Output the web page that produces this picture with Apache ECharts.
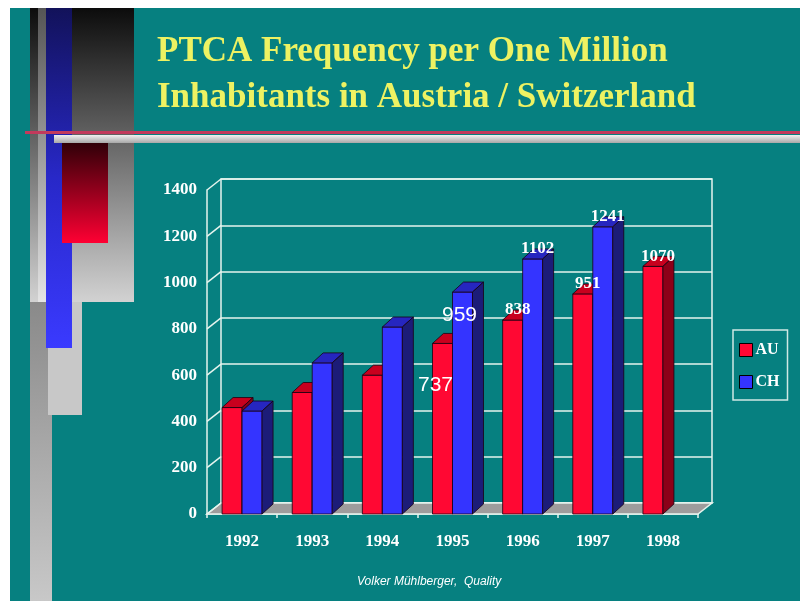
<!DOCTYPE html>
<html>
<head>
<meta charset="utf-8">
<title>PTCA Frequency per One Million Inhabitants</title>
<script src="https://cdn.jsdelivr.net/npm/echarts@6/dist/echarts.min.js"></script>
<style>
  html, body { margin: 0; padding: 0; background: #fff; }
  #chart { width: 800px; height: 601px; }
</style>
</head>
<body>
<div id="chart"></div>
<script>
var years = ['1992', '1993', '1994', '1995', '1996', '1997', '1998'];
var auData = [460, 525, 600, 737, 838, 951, 1070];
var chData = [445, 653, 808, 959, 1102, 1241, null];
var yTicks = [0, 200, 400, 600, 800, 1000, 1200, 1400];
// value labels written on the bars ('' = none)
var auLabels = ['', '', '', '737', '838', '951', '1070'];
var chLabels = ['', '', '', '959', '1102', '1241', ''];

// 3d look
var BAR_DX = 11, BAR_DY = 10;
var WALL_DX = 14, WALL_DY = 11;
var TEAL = '#068080';
var LINE = '#e6f4ee';
var SERIF = '"Liberation Serif", "Times New Roman", serif';

// the two 1995 labels are drawn in a plain font, off the bar top
var plainLabelOffset = { 0: { 3: [-7, 42] }, 1: { 3: [-3, 23] } };

var chart = echarts.init(document.getElementById('chart'));

// left edge + width of a bar, AU left of the category centre, CH right of it
function barBox(sIdx, api, i, v) {
  var top = api.coord([i, v]);
  var base = api.coord([i, 0]);
  var w = api.size([1, 0])[0] * 0.285;
  return { x: sIdx === 0 ? top[0] - w : top[0], w: w, yt: top[1], yb: base[1] };
}

function barRender(sIdx, front, topC, side) {
  return function (params, api) {
    var v = api.value(1);
    if (v == null || isNaN(v)) return;
    var b = barBox(sIdx, api, api.value(0), v);
    var x = b.x, w = b.w, yt = b.yt, yb = b.yb;
    return { type: 'group', children: [
      { type: 'rect', shape: { x: x, y: yt, width: w, height: yb - yt },
        style: { fill: front, stroke: '#1a0010', lineWidth: 0.8 } },
      { type: 'polygon', shape: { points: [[x, yt], [x + BAR_DX, yt - BAR_DY], [x + w + BAR_DX, yt - BAR_DY], [x + w, yt]] },
        style: { fill: topC, stroke: '#1a0010', lineWidth: 0.8 } },
      { type: 'polygon', shape: { points: [[x + w, yt], [x + w + BAR_DX, yt - BAR_DY], [x + w + BAR_DX, yb - BAR_DY], [x + w, yb]] },
        style: { fill: side, stroke: '#1a0010', lineWidth: 0.8 } }
    ] };
  };
}

// labels go in their own series so that they sit above every bar
function labelRender(params, api) {
  var i = api.value(0);
  var children = [];
  [[auData, auLabels], [chData, chLabels]].forEach(function (pair, sIdx) {
    var v = pair[0][i], txt = pair[1][i];
    if (v == null || !txt) return;
    var b = barBox(sIdx, api, i, v);
    var off = plainLabelOffset[sIdx][i];
    if (off) {
      children.push({ type: 'text', x: b.x + b.w / 2 + off[0], y: b.yt + off[1],
        style: { text: txt, fill: '#fff', font: 'normal 21px "Liberation Sans", Arial, sans-serif', align: 'center', verticalAlign: 'middle' } });
    } else {
      children.push({ type: 'text', x: b.x + b.w / 2 + 5, y: b.yt - 10,
        style: { text: txt, fill: '#fff', font: 'bold 17px ' + SERIF, align: 'center', verticalAlign: 'middle' } });
    }
  });
  return { type: 'group', children: children };
}

// floor and the short lines of the left wall
function floorRender(params, api) {
  var cs = params.coordSys;
  var y0 = api.coord([0, 0])[1];
  var x0 = cs.x, x1 = cs.x + cs.width;
  var children = [
    { type: 'polygon', shape: { points: [[x0, y0], [x1, y0], [x1 + WALL_DX, y0 - WALL_DY], [x0 + WALL_DX, y0 - WALL_DY]] },
      style: { fill: '#9e9c9c', stroke: LINE, lineWidth: 1.5 } }
  ];
  yTicks.forEach(function (t) {
    var yy = api.coord([0, t])[1];
    children.push({ type: 'line', shape: { x1: x0, y1: yy, x2: x0 + WALL_DX, y2: yy - WALL_DY },
      style: { stroke: LINE, lineWidth: 1.5 } });
  });
  return { type: 'group', children: children };
}

var option = {
  backgroundColor: TEAL,
  animation: false,
  title: [{
    text: 'PTCA Frequency per One Million\nInhabitants in Austria / Switzerland',
    left: 152,
    top: 24,
    textStyle: {
      color: '#eef262',
      fontFamily: SERIF,
      fontWeight: 'bold',
      fontSize: 35,
      lineHeight: 46,
      textShadowColor: '#1a2a10',
      textShadowOffsetX: 2,
      textShadowOffsetY: 2
    }
  }, {
    text: 'Volker Mühlberger,  Quality',
    left: 352,
    top: 571,
    textStyle: { color: '#fff', fontFamily: '"Liberation Sans", Arial, sans-serif', fontStyle: 'italic', fontWeight: 'normal', fontSize: 12 }
  }],
  legend: {
    data: ['AU', 'CH'],
    orient: 'vertical',
    left: 733,
    top: 330,
    padding: [12, 8, 10, 6],
    itemGap: 16,
    itemWidth: 13,
    itemHeight: 13,
    icon: 'rect',
    borderColor: '#cfe8e4',
    borderWidth: 1.5,
    itemStyle: { borderColor: '#000', borderWidth: 1 },
    textStyle: { color: '#fff', fontFamily: SERIF, fontWeight: 'bold', fontSize: 16, padding: [0, 0, 0, -2] }
  },
  grid: [
    { left: 207, right: 102, top: 190, bottom: 87 },
    { left: 207 + WALL_DX, right: 102 - WALL_DX, top: 190 - WALL_DY, bottom: 87 + WALL_DY,
      show: true, borderColor: LINE, borderWidth: 1.5 }
  ],
  xAxis: [{
    type: 'category',
    data: years,
    gridIndex: 0,
    axisLine: { lineStyle: { color: LINE, width: 1.5 } },
    axisTick: { show: true, length: 4, lineStyle: { color: LINE, width: 1.5 } },
    axisLabel: { color: '#fff', fontFamily: SERIF, fontWeight: 'bold', fontSize: 17, margin: 19 }
  }, {
    type: 'category',
    data: years,
    gridIndex: 1,
    show: false
  }],
  yAxis: [{
    type: 'value',
    gridIndex: 0,
    min: 0,
    max: 1400,
    interval: 200,
    axisLine: { show: true, lineStyle: { color: LINE, width: 1.5 } },
    axisTick: { show: false },
    splitLine: { show: false },
    axisLabel: { color: '#fff', fontFamily: SERIF, fontWeight: 'bold', fontSize: 17, margin: 10,
      formatter: function (v) { return String(v); } }
  }, {
    type: 'value',
    gridIndex: 1,
    min: 0,
    max: 1400,
    interval: 200,
    axisLine: { show: false },
    axisTick: { show: false },
    axisLabel: { show: false },
    splitLine: { lineStyle: { color: LINE, width: 1.5 } }
  }],
  series: [{
    type: 'custom',
    name: 'floor',
    xAxisIndex: 0,
    yAxisIndex: 0,
    z: 1,
    renderItem: floorRender,
    data: [[0, 0]]
  }, {
    type: 'custom',
    name: 'AU',
    xAxisIndex: 0,
    yAxisIndex: 0,
    z: 2,
    itemStyle: { color: '#ff0833' },
    renderItem: barRender(0, '#ff0833', '#c8001e', '#8c0018'),
    data: auData.map(function (v, i) { return [i, v]; })
  }, {
    type: 'custom',
    name: 'CH',
    xAxisIndex: 0,
    yAxisIndex: 0,
    z: 3,
    itemStyle: { color: '#3434ff' },
    renderItem: barRender(1, '#3434ff', '#2626c0', '#1c1c78'),
    data: chData.map(function (v, i) { return [i, v]; })
  }, {
    type: 'custom',
    name: 'labels',
    xAxisIndex: 0,
    yAxisIndex: 0,
    z: 4,
    renderItem: labelRender,
    data: years.map(function (y, i) { return [i, 0]; })
  }],
  // slide decoration on the left
  graphic: [
    { type: 'rect', z: -1, shape: { x: 0, y: 0, width: 800, height: 8 }, style: { fill: '#fff' } },
    { type: 'rect', z: -1, shape: { x: 0, y: 0, width: 10, height: 601 }, style: { fill: '#fff' } },
    { type: 'rect', z: -1, shape: { x: 30, y: 8, width: 22, height: 593 },
      style: { fill: new echarts.graphic.LinearGradient(0, 0, 0, 1, [{ offset: 0, color: '#111' }, { offset: 0.5, color: '#8a8a8a' }, { offset: 1, color: '#c8c8c8' }]) } },
    { type: 'rect', z: -1, shape: { x: 30, y: 8, width: 104, height: 294 },
      style: { fill: new echarts.graphic.LinearGradient(0, 0, 0, 1, [{ offset: 0, color: '#0c0c0c' }, { offset: 1, color: '#d2d2d2' }]) } },
    { type: 'rect', z: -1, shape: { x: 38, y: 8, width: 8, height: 294 },
      style: { fill: new echarts.graphic.LinearGradient(0, 0, 0, 1, [{ offset: 0, color: '#555' }, { offset: 1, color: '#e4e4e4' }]) } },
    { type: 'rect', z: -1, shape: { x: 48, y: 302, width: 34, height: 113 }, style: { fill: '#c8c8c8' } },
    { type: 'rect', z: -1, shape: { x: 46, y: 8, width: 26, height: 340 },
      style: { fill: new echarts.graphic.LinearGradient(0, 0, 0, 1, [{ offset: 0, color: '#12125a' }, { offset: 0.5, color: '#2828c8' }, { offset: 1, color: '#3a3aff' }]) } },
    { type: 'rect', z: -1, shape: { x: 62, y: 143, width: 46, height: 100 },
      style: { fill: new echarts.graphic.LinearGradient(0, 0, 0, 1, [{ offset: 0, color: '#300008' }, { offset: 1, color: '#ff0033' }]) } },
    { type: 'rect', z: -1, shape: { x: 25, y: 131, width: 775, height: 3 }, style: { fill: '#c23a5c' } },
    { type: 'rect', z: -1, shape: { x: 54, y: 135, width: 746, height: 8 },
      style: { fill: new echarts.graphic.LinearGradient(0, 0, 0, 1, [{ offset: 0, color: '#f0f0f0' }, { offset: 1, color: '#a8a8a8' }]) } }
  ]
};

chart.setOption(option);
</script>
</body>
</html>
